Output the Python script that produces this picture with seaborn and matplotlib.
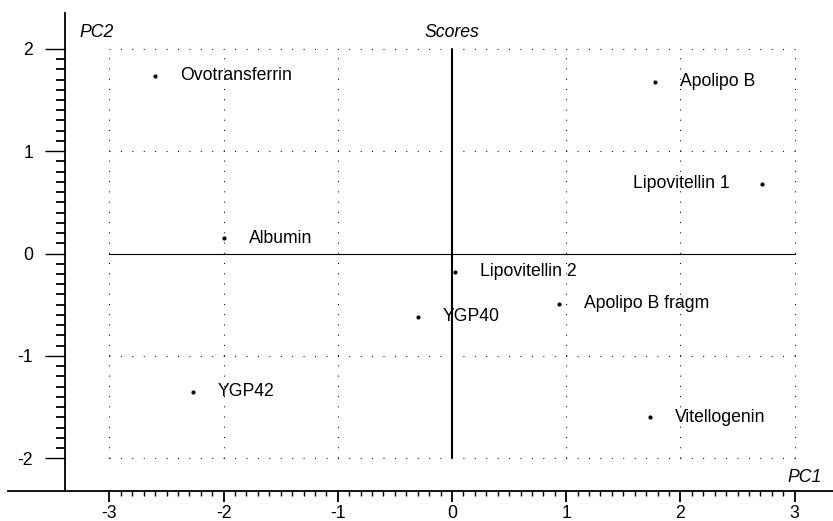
import matplotlib
matplotlib.use("Agg")
import matplotlib.pyplot as plt
import seaborn as sns
import pandas as pd
import numpy as np
from matplotlib.ticker import FixedLocator

# ---- data ----
proteins = ["Ovotransferrin", "Apolipo B", "Lipovitellin 1", "Albumin",
            "Lipovitellin 2", "YGP40", "Apolipo B fragm", "Vitellogenin", "YGP42"]
pc1 = [-2.60, 1.78, 2.71, -2.00, 0.03, -0.30, 0.94, 1.73, -2.27]
pc2 = [1.735, 1.68, 0.68, 0.15, -0.18, -0.62, -0.49, -1.60, -1.35]
label_side = ["right", "right", "left", "right", "right", "right", "right", "right", "right"]
x_ticks = [-3, -2, -1, 0, 1, 2, 3]
y_ticks = [-2, -1, 0, 1, 2]
x_tick_labels = ["-3", "-2", "-1", "0", "1", "2", "3"]
y_tick_labels = ["-2", "-1", "0", "1", "2"]

df = pd.DataFrame({"protein": proteins, "PC1": pc1, "PC2": pc2, "side": label_side})

sns.set_theme(style="white")
plt.rcParams['font.family'] = ['Liberation Sans', 'DejaVu Sans']
plt.rcParams['axes.unicode_minus'] = False
plt.rcParams['lines.scale_dashes'] = False
plt.rcParams['text.color'] = 'black'
plt.rcParams['xtick.color'] = 'black'
plt.rcParams['ytick.color'] = 'black'
plt.rcParams['axes.labelcolor'] = 'black'

W, H = 833, 521
fig = plt.figure(figsize=(W / 100, H / 100), dpi=100)
fig.patch.set_facecolor("white")
ax = fig.add_axes([8 / W, 30 / H, 825 / W, 478 / H])
ax.set_facecolor("white")

FS = 12.7

# dotted grid box
for yv in y_ticks:
    if yv == 0:
        continue
    ax.plot([x_ticks[0], x_ticks[-1]], [yv, yv], color="black", lw=0.8,
            ls=(0, (0.72, 7.5)), zorder=1)
for xv in x_ticks:
    if xv == 0:
        continue
    ax.plot([xv, xv], [y_ticks[0], y_ticks[-1]], color="black", lw=0.8,
            ls=(0, (0.72, 6.65)), zorder=1)

# zero lines
ax.plot([0, 0], [y_ticks[0], y_ticks[-1]], color="black", lw=1.5, zorder=2)
ax.plot([x_ticks[0], x_ticks[-1]], [0, 0], color="black", lw=0.8, zorder=2)

sns.scatterplot(data=df, x="PC1", y="PC2", color="black", s=9, marker="o",
                edgecolor=None, linewidth=0, ax=ax, legend=False, zorder=3)

for _, r in df.iterrows():
    if r["side"] == "right":
        ax.annotate(r["protein"], (r["PC1"], r["PC2"]), xytext=(18, 0),
                    textcoords="offset points", ha="left", va="center",
                    fontsize=FS, color="black")
    else:
        ax.annotate(r["protein"], (r["PC1"], r["PC2"]), xytext=(-23, 0),
                    textcoords="offset points", ha="right", va="center",
                    fontsize=FS, color="black")

ax.set_xlim(-3.888, 3.336)
ax.set_ylim(-2.32, 2.35)
ax.set_xlabel("")
ax.set_ylabel("")

for s in ["top", "right"]:
    ax.spines[s].set_visible(False)
ax.spines["left"].set_position(("data", -3.39))
ax.spines["left"].set_linewidth(1.3)
ax.spines["bottom"].set_linewidth(1.3)
ax.spines["left"].set_color("black")
ax.spines["bottom"].set_color("black")

ax.set_xticks(x_ticks)
ax.set_xticklabels(x_tick_labels, fontsize=FS, color="black")
ax.set_yticks(y_ticks)
ax.set_yticklabels(y_tick_labels, fontsize=FS, color="black")
ax.xaxis.set_minor_locator(FixedLocator(np.linspace(x_ticks[0], x_ticks[-1], 61)))
ax.yaxis.set_minor_locator(FixedLocator(np.linspace(y_ticks[0], y_ticks[-1], 41)))
ax.tick_params(axis="x", which="major", direction="out", length=8, width=1.3,
               pad=2, color="black", bottom=True)
ax.tick_params(axis="x", which="minor", direction="out", length=3.6, width=1.0,
               color="black", bottom=True)
ax.tick_params(axis="y", which="major", direction="out", length=14.4, width=1.0,
               pad=8.5, color="black", left=True)
ax.tick_params(axis="y", which="minor", direction="out", length=6.5, width=1.3,
               color="black", left=True)

ax.text(0, 2.155, "Scores", ha="center", va="center", style="italic",
        fontsize=FS, color="black")
ax.text(-3.26, 2.155, "PC2", ha="left", va="center", style="italic",
        fontsize=FS, color="black")
ax.text(3.24, -2.185, "PC1", ha="right", va="center", style="italic",
        fontsize=FS, color="black")

fig.savefig("out.png", dpi=100, facecolor="white")
